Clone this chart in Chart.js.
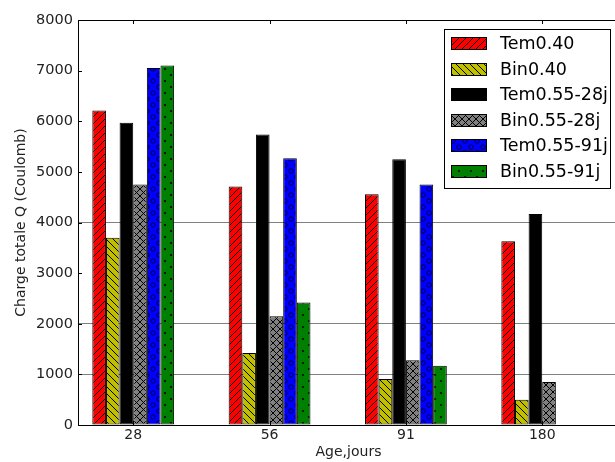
<!DOCTYPE html>
<html><head><meta charset="utf-8">
<script src="https://cdn.jsdelivr.net/npm/chart.js@4.4.0/dist/chart.umd.min.js"></script>
<style>html,body{margin:0;padding:0;overflow:hidden;background:#fff}#wrap{width:615px;height:462px;overflow:hidden}canvas{display:block}</style>
</head><body><div id="wrap"><canvas id="c" width="630" height="462" style="width:630px;height:462px"></canvas></div>
<script>
const categories = ['28', '56', '91', '180'];
const tem040   = [6210, 4710, 4560, 3630];
const bin040   = [3700, 1420, 910, 500];
const tem05528 = [5970, 5740, 5250, 4170];
const bin05528 = [4750, 2150, 1280, 850];
const tem05591 = [7050, 5270, 4750, null];
const bin05591 = [7100, 2420, 1170, null];
const seriesLabels = ['Tem0.40', 'Bin0.40', 'Tem0.55-28j', 'Bin0.55-28j', 'Tem0.55-91j', 'Bin0.55-91j'];
const yTickValues = [0, 1000, 2000, 3000, 4000, 5000, 6000, 7000, 8000];
const gridValues = [1000, 2000, 4000];
const xLabel = 'Age,jours';
const yLabel = 'Charge totale Q (Coulomb)';

function makePattern(bg, type) {
  const s = (type === 'o' || type === '.') ? 12 : 7;
  const c = document.createElement('canvas');
  c.width = s; c.height = s;
  const g = c.getContext('2d');
  g.fillStyle = bg; g.fillRect(0, 0, s, s);
  g.strokeStyle = '#000'; g.fillStyle = '#000'; g.lineWidth = 1;
  if (type === '/' || type === 'x') {
    g.beginPath();
    for (let k = -1; k <= 1; k++) { g.moveTo(k * s, s); g.lineTo(k * s + s, 0); }
    g.stroke();
  }
  if (type === '\\' || type === 'x') {
    g.beginPath();
    for (let k = -1; k <= 1; k++) { g.moveTo(k * s, 0); g.lineTo(k * s + s, s); }
    g.stroke();
  }
  if (type === 'o') {
    g.strokeStyle = 'rgba(0,0,40,0.85)';
    [[3, 3], [9, 9]].forEach(([x, y]) => { g.beginPath(); g.arc(x, y, 2.2, 0, Math.PI * 2); g.stroke(); });
  }
  if (type === '.') {
    [[3, 3], [9, 9]].forEach(([x, y]) => { g.beginPath(); g.arc(x, y, 1.1, 0, Math.PI * 2); g.fill(); });
  }
  return g.createPattern(c, 'repeat');
}

const fills = [
  makePattern('#ff0000', '/'),
  makePattern('#bfbf00', '\\'),
  '#000000',
  makePattern('#808080', 'x'),
  makePattern('#0000ff', 'o'),
  makePattern('#008000', '.')
];
const allSeries = [tem040, bin040, tem05528, bin05528, tem05591, bin05591];

const datasets = allSeries.map((vals, k) => ({
  label: seriesLabels[k],
  data: vals.map((v, i) => ({ x: i, y: v })),
  backgroundColor: fills[k],
  borderColor: '#000',
  borderWidth: 1,
  borderSkipped: false,
  categoryPercentage: 0.6,
  barPercentage: 1.0
}));

const FONT = 'DejaVu Sans';

const framePlugin = {
  id: 'frame',
  afterDatasetsDraw(chart) {
    const { ctx, chartArea: a, scales: { x, y } } = chart;
    ctx.save();
    ctx.strokeStyle = '#000'; ctx.lineWidth = 1;
    ctx.beginPath();
    yTickValues.forEach(v => {
      const py = Math.round(y.getPixelForValue(v)) + 0.5;
      ctx.moveTo(a.left, py); ctx.lineTo(a.left + 4, py);
      ctx.moveTo(a.right - 4, py); ctx.lineTo(a.right, py);
    });
    categories.forEach((c, i) => {
      const px = Math.round(x.getPixelForValue(i)) + 0.5;
      ctx.moveTo(px, a.top); ctx.lineTo(px, a.top + 4);
      ctx.moveTo(px, a.bottom); ctx.lineTo(px, a.bottom - 4);
    });
    ctx.stroke();
    ctx.strokeRect(Math.round(a.left) + 0.5, Math.round(a.top) + 0.5, Math.round(a.right - a.left), Math.round(a.bottom - a.top));

    // legend
    const bx = 444.5, by = 29.5, bw = 166, bh = 159;
    ctx.fillStyle = '#fff'; ctx.fillRect(bx, by, bw, bh);
    ctx.strokeRect(bx, by, bw, bh);
    ctx.font = '17.5px "' + FONT + '"';
    ctx.textBaseline = 'middle'; ctx.textAlign = 'left';
    chart.data.datasets.forEach((ds, k) => {
      const cy = 43.7 + k * 25.5;
      ctx.fillStyle = ds.backgroundColor;
      ctx.fillRect(451, Math.round(cy - 6.5), 36, 13);
      ctx.strokeRect(451.5, Math.round(cy - 6.5) + 0.5, 35, 12);
      ctx.fillStyle = '#000';
      ctx.fillText(ds.label, 500, cy + 1);
    });
    ctx.restore();
  }
};

new Chart(document.getElementById('c'), {
  type: 'bar',
  data: { datasets },
  options: {
    responsive: false,
    animation: false,
    devicePixelRatio: 1,
    layout: { padding: { top: 20, right: 11, left: 0, bottom: 0 } },
    plugins: { legend: { display: false }, tooltip: { enabled: false } },
    scales: {
      x: {
        type: 'linear',
        min: -0.405, max: 3.563,
        offset: false,
        grid: { display: false, offset: false, drawTicks: false },
        border: { display: true, color: '#000', width: 1 },
        afterBuildTicks(scale) { scale.ticks = categories.map((c, i) => ({ value: i })); },
        afterFit(scale) { scale.height = 37; },
        ticks: {
          autoSkip: false, maxRotation: 0, padding: 2,
          color: '#222', font: { family: FONT, size: 14 },
          callback: (v) => categories[v] !== undefined ? categories[v] : ''
        },
        title: { display: true, text: xLabel, color: '#222', font: { family: FONT, size: 14 }, padding: { top: 0, bottom: 1 } }
      },
      y: {
        min: 0, max: 8000,
        afterBuildTicks(scale) { scale.ticks = yTickValues.map(v => ({ value: v })); },
        afterFit(scale) { scale.width = 78; },
        grid: {
          drawTicks: false,
          color: (ctx) => gridValues.includes(ctx.tick && ctx.tick.value) ? '#808080' : 'rgba(0,0,0,0)',
          lineWidth: 1
        },
        border: { display: true, color: '#000', width: 1 },
        ticks: { padding: 5, color: '#222', font: { family: FONT, size: 14.5 }, callback: (v) => String(v) },
        title: { display: true, text: yLabel, color: '#222', font: { family: FONT, size: 14 }, padding: { top: 12.6, bottom: 0 } }
      }
    }
  },
  plugins: [framePlugin]
});
</script></body></html>
